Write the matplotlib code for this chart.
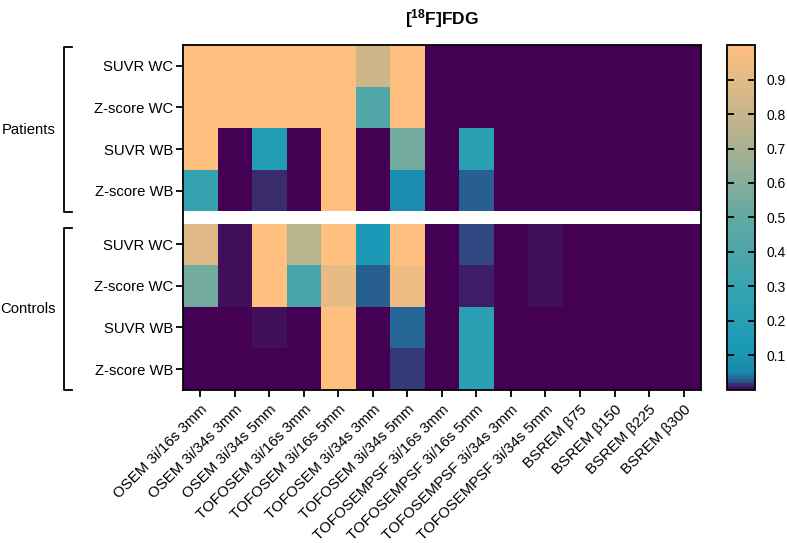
import matplotlib
matplotlib.use('Agg')
import matplotlib.pyplot as plt
import numpy as np
from matplotlib.colors import LinearSegmentedColormap
from matplotlib.lines import Line2D

plt.rcParams['font.family'] = ['Liberation Sans', 'DejaVu Sans']
plt.rcParams['mathtext.fontset'] = 'custom'
plt.rcParams['mathtext.rm'] = 'Liberation Sans'
plt.rcParams['mathtext.bf'] = 'Liberation Sans:bold'

# Data
methods = ['OSEM 3i/16s 3mm', 'OSEM 3i/34s 3mm', 'OSEM 3i/34s 5mm',
           'TOFOSEM 3i/16s 3mm', 'TOFOSEM 3i/16s 5mm', 'TOFOSEM 3i/34s 3mm',
           'TOFOSEM 3i/34s 5mm', 'TOFOSEMPSF 3i/16s 3mm', 'TOFOSEMPSF 3i/16s 5mm',
           'TOFOSEMPSF 3i/34s 3mm', 'TOFOSEMPSF 3i/34s 5mm',
           'BSREM β75', 'BSREM β150', 'BSREM β225', 'BSREM β300']
metrics = ['SUVR WC', 'Z-score WC', 'SUVR WB', 'Z-score WB']

patients = [
    [1, 1, 1, 1, 1, 0.82, 1, 0, 0, 0, 0, 0, 0, 0, 0],
    [1, 1, 1, 1, 1, 0.42, 1, 0, 0, 0, 0, 0, 0, 0, 0],
    [1, 0, 0.17, 0, 1, 0, 0.55, 0, 0.22, 0, 0, 0, 0, 0, 0],
    [0.28, 0, 0.015, 0, 1, 0, 0.07, 0, 0.03, 0, 0, 0, 0, 0, 0],
]
controls = [
    [0.88, 0.006, 1, 0.75, 1, 0.12, 1, 0, 0.02, 0, 0.005, 0, 0, 0, 0],
    [0.55, 0.004, 1, 0.38, 0.92, 0.03, 0.94, 0, 0.008, 0, 0.004, 0, 0, 0, 0],
    [0.003, 0, 0.007, 0, 1, 0, 0.035, 0, 0.22, 0, 0, 0, 0, 0, 0],
    [0, 0, 0.002, 0, 1, 0, 0.018, 0, 0.22, 0, 0, 0, 0, 0, 0],
]
cbar_ticks = [0.1, 0.2, 0.3, 0.4, 0.5, 0.6, 0.7, 0.8, 0.9]

ncol = len(methods)
mat = np.array(patients + [[np.nan] * ncol] + controls)
mat = np.ma.masked_invalid(mat)

cmap = LinearSegmentedColormap.from_list('fdg', [
    (0.0, '#440154'), (0.012, '#3a2c6e'), (0.025, '#2a5a8e'),
    (0.05, '#1a89ad'), (0.12, '#1a9bb6'), (0.3, '#37a3b0'),
    (0.5, '#62a9a2'), (0.75, '#b8b38e'), (1.0, '#ffbf7f')])
cmap.set_bad('white')

gap = 0.29
y_edges = np.array([0, 1, 2, 3, 4, 4 + gap, 5 + gap, 6 + gap, 7 + gap, 8 + gap])
x_edges = np.arange(ncol + 1)

fig = plt.figure(figsize=(7.87, 5.43), dpi=100)
ax = fig.add_axes([0.2325, 0.282, 0.658, 0.635])
mesh = ax.pcolormesh(x_edges, y_edges, mat, cmap=cmap, vmin=0, vmax=1)
ax.set_xlim(0, ncol)
ax.set_ylim(y_edges[-1], 0)

row_centers = np.concatenate([np.arange(4) + 0.5, np.arange(4) + 4 + gap + 0.5])
ax.set_yticks(row_centers)
ax.set_yticklabels(metrics + metrics, fontsize=10.7)
ax.set_xticks(np.arange(ncol) + 0.5)
ax.set_xticklabels(methods, rotation=45, ha='right', rotation_mode='anchor', fontsize=10.8)
ax.tick_params(length=5, width=1.3, pad=2)
ax.tick_params(axis='x', pad=4)
for s in ax.spines.values():
    s.set_linewidth(1.3)

fig.text(0.561, 0.965, r'$\mathbf{[^{18}F]FDG}$', ha='center', va='center', fontsize=12.5)

# group brackets
def bracket(y0, y1, label):
    x0, x1 = 0.0813, 0.0915
    fig.add_artist(Line2D([x1, x0, x0, x1], [y0, y0, y1, y1], color='black', lw=1.3))
    fig.text(0.036, (y0 + y1) / 2, label, ha='center', va='center', fontsize=10.7)

bracket(0.9134, 0.6096, 'Patients')
bracket(0.580, 0.2818, 'Controls')

cax = fig.add_axes([0.924, 0.282, 0.0356, 0.635])
cb = fig.colorbar(mesh, cax=cax, ticks=cbar_ticks)
cb.ax.set_yticklabels([f'{t:.1f}' for t in cbar_ticks])
cb.ax.tick_params(direction='in', left=True, right=True, length=5, width=1.3, labelsize=10, pad=8)
cb.outline.set_linewidth(1.3)

fig.savefig('out.png', dpi=100)
